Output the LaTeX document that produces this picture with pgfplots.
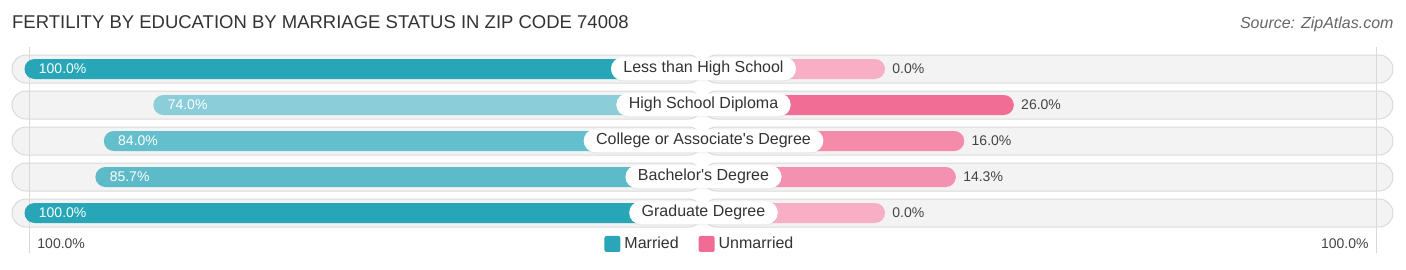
\documentclass[border=0pt]{standalone}
\usepackage{pgfplots}
\pgfplotsset{compat=1.18}
\usepackage{fontspec}
\setmainfont{Liberation Sans}
\usetikzlibrary{shadows}
\definecolor{trackfill}{HTML}{F3F3F3}
\definecolor{trackdraw}{HTML}{DADADA}
\definecolor{mA}{HTML}{27A6B8}
\definecolor{mB}{HTML}{8BCDD8}
\definecolor{mC}{HTML}{64BFCC}
\definecolor{mD}{HTML}{5DBBC9}
\definecolor{uA}{HTML}{F8AFC6}
\definecolor{uB}{HTML}{F26D96}
\definecolor{uC}{HTML}{F48BAB}
\definecolor{uD}{HTML}{F591B0}
\definecolor{legM}{HTML}{2AA6B8}
\definecolor{legU}{HTML}{F06C95}
\definecolor{txt}{HTML}{333333}
\definecolor{valtxt}{HTML}{444444}
\definecolor{srctxt}{HTML}{666666}
\def\off{36.83}
\pgfplotsset{
  basebar/.style={xbar, bar shift=0pt, bar width=10pt, draw=none, rounded corners=5pt, forget plot,
    point meta=explicit,
    /pgf/number format/assume math mode=true,
    nodes near coords={\pgfmathprintnumber[fixed,fixed zerofill,precision=1,assume math mode=true]{\pgfplotspointmeta}\%},
  },
  mbar/.style={basebar, fill=#1,
    every node near coord/.append style={anchor=west, xshift=7pt, inner sep=0pt, text=white, font=\fontsize{7}{8}\selectfont}},
  ubar/.style={basebar, fill=#1,
    every node near coord/.append style={anchor=west, xshift=3.5pt, inner sep=0pt, text=valtxt, font=\fontsize{7}{8}\selectfont}},
  track/.style={xbar, bar shift=0pt, bar width=14pt, fill=trackfill, draw=trackdraw, line width=0.5pt, rounded corners=7pt, forget plot},
}
\tikzset{
  catlabel/.style={fill=white, rounded corners=5.75pt, minimum height=11.5pt, inner xsep=6.25pt, inner ysep=0pt,
    font=\fontsize{8}{9.6}\selectfont, text=txt, drop shadow={opacity=0.12, shadow xshift=0pt, shadow yshift=-0.5pt}},
}
\begin{document}
\begin{tikzpicture}
\useasboundingbox (0,0) rectangle (703pt,134.5pt);
\begin{axis}[
  at={(0,0)}, anchor=south west,
  scale only axis, width=703pt, height=134.5pt,
  xmin=-141.78, xmax=141.98, ymin=-269, ymax=0,
  hide axis, clip=false,
  /pgf/number format/assume math mode=true,
  legend style={at={(0.4985,0.093)}, anchor=center, draw=none, fill=none, legend columns=2,
    font=\fontsize{8}{9.6}\selectfont, text=txt, inner sep=0pt,
    /tikz/every even column/.append style={column sep=8pt}},
]
% tracks
\addplot[track] coordinates {(-139.36,-69) (-139.36,-105) (-139.36,-141) (-139.36,-177) (-139.36,-213)};
\addplot[track] coordinates {(139.35,-69) (139.35,-105) (139.35,-141) (139.35,-177) (139.35,-213)};
% faint guide lines
\addplot[forget plot, draw=black!15, line width=0.5pt] coordinates {(-135.9,-47) (-135.9,-253)};
\addplot[forget plot, draw=black!15, line width=0.5pt] coordinates {(136.1,-47) (136.1,-253)};
% married bars
\addplot[mbar=mA] table[x expr=-(\off+\thisrow{v}), y=y, meta=v] {
y v
-69 100.0
};
\addplot[mbar=mB] table[x expr=-(\off+\thisrow{v}), y=y, meta=v] {
y v
-105 74.0
};
\addplot[mbar=mC] table[x expr=-(\off+\thisrow{v}), y=y, meta=v] {
y v
-141 84.0
};
\addplot[mbar=mD] table[x expr=-(\off+\thisrow{v}), y=y, meta=v] {
y v
-177 85.7
};
\addplot[mbar=mA] table[x expr=-(\off+\thisrow{v}), y=y, meta=v] {
y v
-213 100.0
};
% unmarried bars
\addplot[ubar=uA] table[x expr=\off+\thisrow{v}, y=y, meta=v] {
y v
-69 0.0
};
\addplot[ubar=uB] table[x expr=\off+\thisrow{v}, y=y, meta=v] {
y v
-105 26.0
};
\addplot[ubar=uC] table[x expr=\off+\thisrow{v}, y=y, meta=v] {
y v
-141 16.0
};
\addplot[ubar=uD] table[x expr=\off+\thisrow{v}, y=y, meta=v] {
y v
-177 14.3
};
\addplot[ubar=uA] table[x expr=\off+\thisrow{v}, y=y, meta=v] {
y v
-213 0.0
};
% category labels
\node[catlabel] at (axis cs:0.2,-68.8) {Less than High School};
\node[catlabel] at (axis cs:0.2,-104.8) {High School Diploma};
\node[catlabel] at (axis cs:0.2,-140.8) {College or Associate\textquotesingle s Degree};
\node[catlabel] at (axis cs:0.2,-176.8) {Bachelor\textquotesingle s Degree};
\node[catlabel] at (axis cs:0.2,-212.8) {Graduate Degree};
% title and source
\node[anchor=west, font=\fontsize{9.25}{11}\selectfont, text=txt, inner sep=0pt] at (axis cs:-139.4,-22) {FERTILITY BY EDUCATION BY MARRIAGE STATUS IN ZIP CODE 74008};
\node[anchor=east, font=\fontsize{8}{10}\selectfont\itshape, text=srctxt, inner sep=0pt] at (axis cs:139.55,-24) {Source: ZipAtlas.com};
% bottom scale labels
\node[anchor=west, font=\fontsize{7}{8}\selectfont, text=valtxt, inner sep=0pt] at (axis cs:-134.3,-244) {100.0\%};
\node[anchor=east, font=\fontsize{7}{8}\selectfont, text=valtxt, inner sep=0pt] at (axis cs:134.5,-244) {100.0\%};
% legend
\addlegendimage{fill=legM, draw=none, legend image code/.code={\fill[rounded corners=1pt] (0pt,-4pt) rectangle (8pt,4pt);}}
\addlegendentry{Married}
\addlegendimage{fill=legU, draw=none, legend image code/.code={\fill[rounded corners=1pt] (0pt,-4pt) rectangle (8pt,4pt);}}
\addlegendentry{Unmarried}
\end{axis}
\end{tikzpicture}
\end{document}
